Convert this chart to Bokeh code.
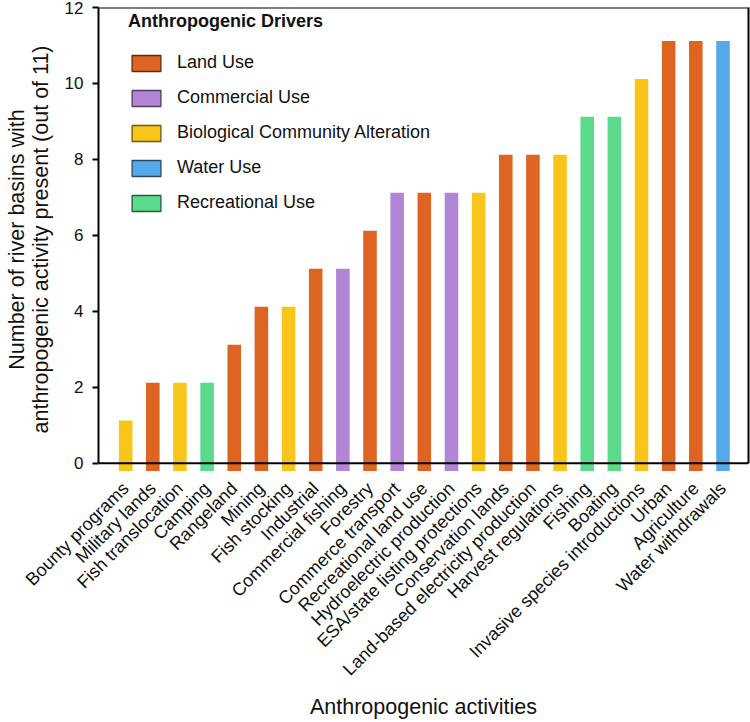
import math
from bokeh.plotting import figure
from bokeh.models import (Range1d, FixedTicker, LinearAxis, Span, Legend,
                          LegendItem, ColumnDataSource, CDSView, GroupFilter,
                          GlobalInlineStyleSheet)
from bokeh.embed import file_html
from bokeh.resources import INLINE

# ---------------- data ----------------
categories = ["Bounty programs", "Military lands", "Fish translocation", "Camping",
              "Rangeland", "Mining", "Fish stocking", "Industrial",
              "Commercial fishing", "Forestry", "Commerce transport",
              "Recreational land use", "Hydroelectric production",
              "ESA/state listing protections", "Conservation lands",
              "Land-based electricity production", "Harvest regulations",
              "Fishing", "Boating", "Invasive species introductions",
              "Urban", "Agriculture", "Water withdrawals"]
counts = [1, 2, 2, 2, 3, 4, 4, 5, 5, 6, 7, 7, 7, 7, 8, 8, 8, 9, 9, 10, 11, 11, 11]
drivers = ["Biological Community Alteration", "Land Use", "Biological Community Alteration",
           "Recreational Use", "Land Use", "Land Use", "Biological Community Alteration",
           "Land Use", "Commercial Use", "Land Use", "Commercial Use", "Land Use",
           "Commercial Use", "Biological Community Alteration", "Land Use", "Land Use",
           "Biological Community Alteration", "Recreational Use", "Recreational Use",
           "Biological Community Alteration", "Land Use", "Land Use", "Water Use"]
driver_names = ["Land Use", "Commercial Use", "Biological Community Alteration",
                "Water Use", "Recreational Use"]
driver_colors = ["#DE6421", "#B285D7", "#F8C61A", "#55A9E9", "#5BDA8B"]
driver_edges = ["#5e2a0e", "#4e3d63", "#6b560a", "#234a66", "#245c3c"]
y_ticks = [0, 2, 4, 6, 8, 10, 12]
y_title = "Number of river basins with\nanthropogenic activity present (out of 11)"
x_title = "Anthropogenic activities"
legend_title = "Anthropogenic Drivers"

FONT = "Liberation Sans"
BAR_CAP = 0.12      # drawn bar overshoot above the count (as in the original)
BAR_FOOT = -0.21    # bars start slightly below the zero line (as in the original)

n = len(categories)
xs = list(range(n))
source = ColumnDataSource(dict(
    x=xs,
    top=[c + BAR_CAP for c in counts],
    driver=drivers,
    color=[driver_colors[driver_names.index(d)] for d in drivers],
))

p = figure(width=750, height=722,
           x_range=Range1d(-1.0, 22.94), y_range=Range1d(-0.22, 12),
           output_backend="svg", toolbar_location=None,
           min_border_left=98, min_border_right=2, min_border_top=7,
           min_border_bottom=251)
p.stylesheets = [GlobalInlineStyleSheet(css="html, body { margin: 0 !important; padding: 0 !important; overflow: hidden; }")]
p.grid.visible = False
p.outline_line_color = None
p.background_fill_color = "white"
p.border_fill_color = "white"

p.vbar(x="x", top="top", bottom=BAR_FOOT, width=0.5, fill_color="color",
       line_color=None, source=source)

# ---- y axis ----
ya = p.yaxis[0]
ya.bounds = (0, 12)
ya.ticker = FixedTicker(ticks=y_ticks)
ya.minor_tick_line_color = None
ya.major_tick_in = 0
ya.major_tick_out = 6
ya.major_tick_line_width = 2
ya.major_tick_line_color = "black"
ya.axis_line_width = 2
ya.axis_line_color = "black"
ya.major_label_text_font = FONT
ya.major_label_text_font_size = "17px"
ya.major_label_text_color = "#111111"
ya.major_label_standoff = 9
ya.axis_label = y_title
ya.axis_label_text_font = FONT
ya.axis_label_text_font_size = "21.5px"
ya.axis_label_text_font_style = "normal"
ya.axis_label_text_color = "#111111"
ya.axis_label_text_line_height = 1.0
ya.axis_label_standoff = 9

# ---- x axis ----
xa = p.xaxis[0]
xa.ticker = FixedTicker(ticks=xs)
xa.major_label_overrides = {i: c for i, c in zip(xs, categories)}
xa.major_label_orientation = math.pi / 4
xa.axis_line_color = None
xa.major_tick_line_color = None
xa.minor_tick_line_color = None
xa.major_label_text_font = FONT
xa.major_label_text_font_size = "18px"
xa.major_label_text_color = "#111111"
xa.major_label_standoff = 8
xa.axis_label = x_title
xa.axis_label_text_font = FONT
xa.axis_label_text_font_size = "21.5px"
xa.axis_label_text_font_style = "normal"
xa.axis_label_text_color = "#111111"
xa.axis_label_standoff = 6

# ---- box lines ----
ra = LinearAxis(bounds=(0, 12), ticker=FixedTicker(ticks=[]),
                major_label_text_font_size="0px", major_tick_in=0, major_tick_out=0,
                minor_tick_in=0, minor_tick_out=0, major_label_standoff=0,
                axis_line_width=2, axis_line_color="black")
p.add_layout(ra, "right")
p.add_layout(Span(location=0, dimension="width", line_color="black", line_width=2))
p.add_layout(Span(location=12, dimension="width", line_color="black", line_width=2))

# ---- legend (swatches from per-driver renderers, hidden, with dark outline) ----
items = []
for name, col, edge in zip(driver_names, driver_colors, driver_edges):
    view = CDSView(filter=GroupFilter(column_name="driver", group=name))
    r = p.vbar(x="x", top="top", bottom=BAR_FOOT, width=0.5, source=source, view=view,
               fill_color=col, line_color=edge, line_width=1.3)
    r.visible = False
    items.append(LegendItem(label=name, renderers=[r]))

legend = Legend(items=items, location=(30, 258),
                title=legend_title, title_text_font=FONT,
                title_text_font_style="bold", title_text_font_size="18px",
                title_text_color="#111111", title_standoff=20,
                label_text_font=FONT, label_text_font_size="18px",
                label_text_color="#111111",
                glyph_width=36, glyph_height=20, label_height=20,
                label_standoff=13, spacing=14, padding=0, margin=0,
                border_line_color=None, background_fill_alpha=0)
p.add_layout(legend)

open("out.html", "w").write(file_html(p, INLINE))
